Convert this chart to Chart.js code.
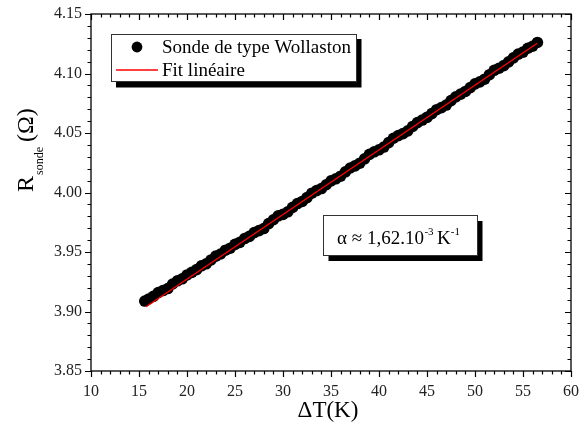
<!DOCTYPE html>
<html>
<head>
<meta charset="utf-8">
<script src="https://cdn.jsdelivr.net/npm/chart.js@4.4.0/dist/chart.umd.min.js"></script>
<style>
  html, body { margin: 0; padding: 0; background: #ffffff; }
  #wrap { width: 584px; height: 425px; }
</style>
</head>
<body>
<div id="wrap"><canvas id="c" width="584" height="425"></canvas></div>
<script>
// ---- Data ----
const deltaT = [15.6, 16.0, 16.5, 17.0, 17.5, 18.0, 18.5, 19.0, 19.5, 20.0,
  20.5, 21.0, 21.5, 22.0, 22.5, 23.0, 23.5, 24.0, 24.5, 25.0,
  25.5, 26.0, 26.5, 27.0, 27.5, 28.0, 28.5, 29.0, 29.5, 30.0,
  30.5, 31.0, 31.5, 32.0, 32.5, 33.0, 33.5, 34.0, 34.5, 35.0,
  35.5, 36.0, 36.5, 37.0, 37.5, 38.0, 38.5, 39.0, 39.5, 40.0,
  40.5, 41.0, 41.5, 42.0, 42.5, 43.0, 43.5, 44.0, 44.5, 45.0,
  45.5, 46.0, 46.5, 47.0, 47.5, 48.0, 48.5, 49.0, 49.5, 50.0,
  50.5, 51.0, 51.5, 52.0, 52.5, 53.0, 53.5, 54.0, 54.5, 55.0,
  55.5, 56.0, 56.5];
const rSonde = [3.9088, 3.9105, 3.9127, 3.9159, 3.9176, 3.9193, 3.9231, 3.9258, 3.9275, 3.9307,
  3.9329, 3.9352, 3.9384, 3.9401, 3.9433, 3.9465, 3.9483, 3.9515, 3.9532, 3.9564,
  3.9581, 3.9613, 3.9631, 3.9663, 3.9680, 3.9697, 3.9739, 3.9771, 3.9804, 3.9816,
  3.9838, 3.9875, 3.9907, 3.9925, 3.9957, 3.9994, 4.0016, 4.0033, 4.0065, 4.0098,
  4.0115, 4.0137, 4.0174, 4.0206, 4.0224, 4.0246, 4.0283, 4.0320, 4.0342, 4.0359,
  4.0382, 4.0419, 4.0456, 4.0478, 4.0495, 4.0518, 4.0555, 4.0587, 4.0609, 4.0631,
  4.0663, 4.0696, 4.0713, 4.0735, 4.0772, 4.0804, 4.0827, 4.0849, 4.0881, 4.0913,
  4.0930, 4.0952, 4.0990, 4.1027, 4.1044, 4.1066, 4.1098, 4.1131, 4.1163, 4.1180,
  4.1212, 4.1229, 4.1261];
const fitX = [15.73, 56.49];
const fitY = [3.904, 4.1254];
const xTickValues = [10, 15, 20, 25, 30, 35, 40, 45, 50, 55, 60];
const yTickValues = [3.85, 3.90, 3.95, 4.00, 4.05, 4.10, 4.15];
const yTickLabels = ['3.85', '3.90', '3.95', '4.00', '4.05', '4.10', '4.15'];
const seriesNames = ['Sonde de type Wollaston', 'Fit linéaire'];
const xTitle = 'ΔT(K)';
const yTitleMain = 'R';
const yTitleSub = 'sonde';
const yTitleUnit = '(Ω)';
const annotation = { main: 'α ≈ 1,62.10', exp1: '-3', unit: 'K', exp2: '-1' };

const FONT = '"Liberation Serif", "Times New Roman", serif';

function zeroPad(scale) {
  scale.paddingTop = 0; scale.paddingBottom = 0;
  scale.paddingLeft = 0; scale.paddingRight = 0;
}

const decorPlugin = {
  id: 'decor',
  afterDraw(chart) {
    const ctx = chart.ctx;
    const ca = chart.chartArea;
    const xs = chart.scales.x, ys = chart.scales.y;
    ctx.save();
    // frame
    ctx.strokeStyle = '#000';
    ctx.lineWidth = 1.3;
    ctx.strokeRect(ca.left, ca.top, ca.right - ca.left, ca.bottom - ca.top);
    // x ticks (minor every 1, major every 5)
    ctx.lineWidth = 1.2;
    ctx.beginPath();
    for (let v = xs.min; v <= xs.max + 1e-9; v += 1) {
      const px = Math.round(xs.getPixelForValue(v)) + 0.5;
      const major = Math.abs(v % 5) < 1e-9;
      const len = major ? 6 : 3.5;
      ctx.moveTo(px, ca.bottom); ctx.lineTo(px, ca.bottom + len);
      ctx.moveTo(px, ca.top); ctx.lineTo(px, ca.top + len);
    }
    // y ticks (minor every 0.01, major every 0.05)
    for (let i = 0; i <= 30; i++) {
      const v = 3.85 + i * 0.01;
      const py = Math.round(ys.getPixelForValue(v)) + 0.5;
      const major = i % 5 === 0;
      const len = major ? 6 : 3.5;
      ctx.moveTo(ca.left, py); ctx.lineTo(ca.left - len, py);
      ctx.moveTo(ca.right, py); ctx.lineTo(ca.right - len, py);
    }
    ctx.stroke();

    // legend box with shadow
    const lx = 111, ly = 34, lw = 245, lh = 47;
    ctx.fillStyle = '#000';
    ctx.fillRect(lx + 5, ly + 5, lw + 0.5, lh + 1.5);
    ctx.fillStyle = '#fff';
    ctx.fillRect(lx, ly, lw, lh);
    ctx.strokeStyle = '#333';
    ctx.lineWidth = 1;
    ctx.strokeRect(lx + 0.5, ly + 0.5, lw, lh);
    // legend entries
    const ds0 = chart.data.datasets[0], ds1 = chart.data.datasets[1];
    ctx.fillStyle = ds0.backgroundColor;
    ctx.beginPath();
    ctx.arc(137, 47, 5.4, 0, Math.PI * 2);
    ctx.fill();
    ctx.strokeStyle = ds1.borderColor;
    ctx.lineWidth = 1.3;
    ctx.beginPath();
    ctx.moveTo(116, 70); ctx.lineTo(158, 70);
    ctx.stroke();
    ctx.fillStyle = '#000';
    ctx.font = '19px ' + FONT;
    ctx.textBaseline = 'alphabetic';
    ctx.textAlign = 'left';
    ctx.fillText(ds0.label, 162, 53);
    ctx.fillText(ds1.label, 162, 76);

    // annotation box with shadow
    const ax = 323, ay = 215, aw = 154, ah = 40;
    ctx.fillStyle = '#000';
    ctx.fillRect(ax + 5.5, ay + 6, aw, ah);
    ctx.fillStyle = '#fff';
    ctx.fillRect(ax, ay, aw, ah);
    ctx.strokeStyle = '#333';
    ctx.lineWidth = 1;
    ctx.strokeRect(ax + 0.5, ay + 0.5, aw, ah);
    ctx.fillStyle = '#000';
    let tx = 337;
    const base = 244;
    ctx.font = '19px ' + FONT;
    ctx.fillText(annotation.main, tx, base);
    tx += ctx.measureText(annotation.main).width;
    ctx.font = '11px ' + FONT;
    ctx.fillText(annotation.exp1, tx + 0.5, base - 9);
    tx += ctx.measureText(annotation.exp1).width + 4;
    ctx.font = '19px ' + FONT;
    ctx.fillText(annotation.unit, tx, base);
    tx += ctx.measureText(annotation.unit).width;
    ctx.font = '11px ' + FONT;
    ctx.fillText(annotation.exp2, tx, base - 9);

    // x axis title
    ctx.font = '23px ' + FONT;
    ctx.textAlign = 'center';
    ctx.fillText(xTitle, 328, 417);

    // y axis title (rotated)
    ctx.translate(33, 192);
    ctx.rotate(-Math.PI / 2);
    ctx.textAlign = 'left';
    ctx.font = '24px ' + FONT;
    ctx.fillText(yTitleMain, 0, 0);
    let rx = ctx.measureText(yTitleMain).width + 1;
    ctx.font = '12px ' + FONT;
    ctx.fillText(yTitleSub, rx, 10);
    rx += ctx.measureText(yTitleSub).width + 5;
    ctx.font = '24px ' + FONT;
    ctx.fillText(yTitleUnit, rx, 0);
    ctx.restore();
  }
};

const scatterPoints = deltaT.map((x, i) => ({ x: x, y: rSonde[i] }));
const fitPoints = fitX.map((x, i) => ({ x: x, y: fitY[i] }));

new Chart(document.getElementById('c'), {
  type: 'scatter',
  data: {
    datasets: [
      {
        label: seriesNames[0],
        data: scatterPoints,
        backgroundColor: '#000000',
        borderColor: '#000000',
        pointRadius: 5.8,
        pointBorderWidth: 0,
        showLine: false,
        order: 2
      },
      {
        label: seriesNames[1],
        data: fitPoints,
        type: 'line',
        borderColor: '#ff0000',
        backgroundColor: '#ff0000',
        borderWidth: 1.4,
        pointRadius: 0,
        showLine: true,
        fill: false,
        order: 1
      }
    ]
  },
  options: {
    responsive: false,
    animation: false,
    events: [],
    layout: { padding: { left: 0, right: 13, top: 14, bottom: 0 } },
    plugins: { legend: { display: false }, tooltip: { enabled: false } },
    scales: {
      x: {
        type: 'linear',
        min: 10, max: 60,
        afterBuildTicks(scale) { scale.ticks = xTickValues.map(v => ({ value: v })); },
        afterFit(scale) { scale.height = 54; zeroPad(scale); },
        grid: { display: false },
        border: { display: false },
        ticks: {
          font: { family: FONT, size: 16 },
          color: '#222',
          padding: 3,
          maxRotation: 0,
          callback: (v) => String(v)
        }
      },
      y: {
        type: 'linear',
        min: 3.85, max: 4.15,
        afterBuildTicks(scale) { scale.ticks = yTickValues.map(v => ({ value: v })); },
        afterFit(scale) { scale.width = 91; zeroPad(scale); },
        grid: { display: false },
        border: { display: false },
        ticks: {
          font: { family: FONT, size: 16 },
          color: '#222',
          padding: 1,
          callback: (v) => {
            const i = yTickValues.findIndex(t => Math.abs(t - v) < 1e-6);
            return i >= 0 ? yTickLabels[i] : '';
          }
        }
      }
    }
  },
  plugins: [decorPlugin]
});
</script>
</body>
</html>
